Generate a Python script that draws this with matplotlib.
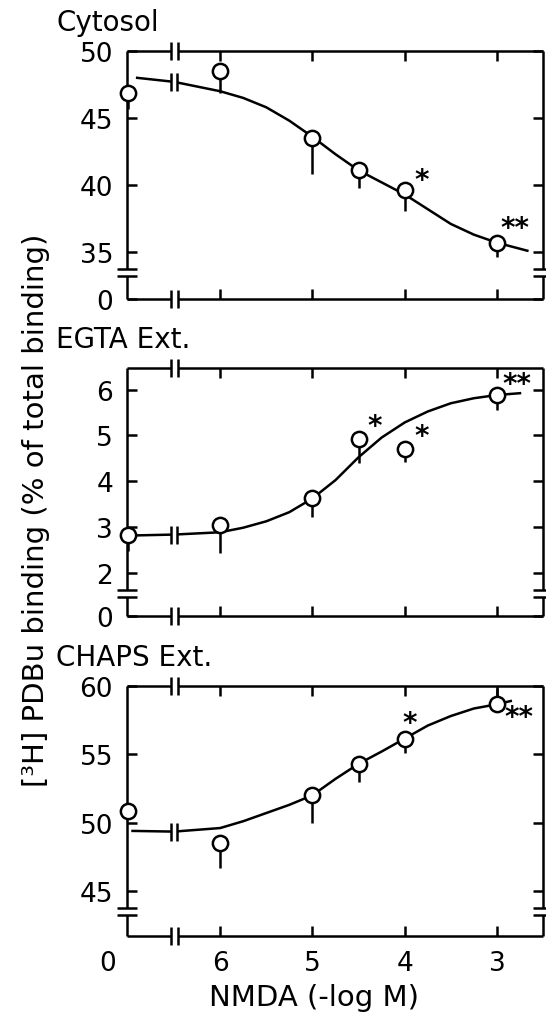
import matplotlib
matplotlib.use("Agg")
import matplotlib.pyplot as plt

plt.rcParams["font.family"] = ["DejaVu Sans"]

# x positions in -log M; 7.0 stands for the control ("0") point
dose = [7.0, 6.0, 5.0, 4.5, 4.0, 3.0]

# Cytosol
cyto_mean = [46.9, 48.5, 43.5, 41.1, 39.6, 35.7]
cyto_err_lo = [1.2, 1.6, 2.7, 1.3, 1.5, 1.1]
cyto_err_hi = [0, 0, 0, 0, 0, 0]
cyto_fit_x = [6.9, 6.5, 6.0, 5.75, 5.5, 5.25, 5.0, 4.75, 4.5, 4.25, 4.0, 3.75, 3.5, 3.25, 3.0, 2.67]
cyto_fit_y = [48.0, 47.7, 47.0, 46.5, 45.8, 44.8, 43.6, 42.3, 41.1, 40.2, 39.3, 38.2, 37.1, 36.3, 35.7, 35.1]
cyto_stars = [(3.82, 40.4, "*"), (2.8, 36.8, "**")]

# EGTA extract
egta_mean = [2.81, 3.03, 3.64, 4.91, 4.71, 5.89]
egta_err_lo = [0.35, 0.6, 0.42, 0.52, 0.3, 0.33]
egta_err_hi = [0, 0, 0, 0, 0, 0]
egta_fit_x = [6.95, 6.5, 6.0, 5.75, 5.5, 5.25, 5.0, 4.75, 4.5, 4.25, 4.0, 3.75, 3.5, 3.25, 3.0, 2.75]
egta_fit_y = [2.81, 2.83, 2.88, 2.98, 3.12, 3.32, 3.62, 4.02, 4.52, 4.95, 5.28, 5.52, 5.70, 5.81, 5.88, 5.92]
egta_stars = [(4.33, 5.2, "*"), (3.82, 4.98, "*"), (2.78, 6.12, "**")]

# CHAPS extract
chaps_mean = [50.85, 48.5, 52.0, 54.27, 56.15, 58.66]
chaps_err_lo = [0, 1.8, 2.05, 1.3, 1.05, 0]
chaps_err_hi = [0, 0, 0, 0, 0, 1.2]
chaps_fit_x = [6.95, 6.5, 6.0, 5.75, 5.5, 5.25, 5.0, 4.75, 4.5, 4.25, 4.0, 3.75, 3.5, 3.25, 3.0, 2.85]
chaps_fit_y = [49.39, 49.34, 49.6, 50.1, 50.7, 51.3, 52.0, 53.2, 54.3, 55.2, 56.15, 57.1, 57.8, 58.35, 58.66, 58.9]
chaps_stars = [(3.95, 57.3, "*"), (2.76, 57.7, "**")]

x_ticks = [6, 5, 4, 3]
x_break = 6.5

FS = 19
LW = 1.8


def broken_frame(ax, y_break):
    """Draw the box by hand with the axis-break marks."""
    for s in ax.spines.values():
        s.set_visible(False)
    x0, x1 = ax.get_xlim()
    y0, y1 = ax.get_ylim()
    xb = (x_break - x0) / (x1 - x0)
    yb = (y_break - y0) / (y1 - y0)
    gx, gy = 3.5 / 416, 3.5 / 248
    kw = dict(transform=ax.transAxes, color="k", lw=LW, clip_on=False, solid_capstyle="butt")
    for yy in (0, 1):
        ax.plot([0, xb - gx], [yy, yy], **kw)
        ax.plot([xb + gx, 1], [yy, yy], **kw)
        for xx in (xb - gx, xb + gx):
            ax.plot([xx, xx], [yy - 9 / 248, yy + 9 / 248], **kw)
    for xx in (0, 1):
        ax.plot([xx, xx], [0, yb - gy], **kw)
        ax.plot([xx, xx], [yb + gy, 1], **kw)
        for yy in (yb - gy, yb + gy):
            ax.plot([xx - 10 / 416, xx + 10 / 416], [yy, yy], **kw)


def draw_panel(ax, mean, err_lo, err_hi, fit_x, fit_y, stars, ylim, yticks, ylabels, y_break, title):
    ax.set_xlim(7.01, 2.5)
    ax.set_ylim(*ylim)

    ax.plot(fit_x, fit_y, color="k", lw=LW, zorder=2)
    # break on the fitted curve
    yb = fit_y[fit_x.index(x_break)]
    ax.plot([x_break], [yb], marker="s", ms=5, color="white", mec="none", ls="none", zorder=3)
    ax.plot([x_break - 0.035, x_break + 0.035], [yb, yb], marker="|", ms=13, mew=LW,
            color="k", ls="none", zorder=4)

    ax.errorbar(dose, mean, yerr=[err_lo, err_hi], fmt="none", ecolor="k", elinewidth=LW,
                capsize=0, zorder=3, clip_on=False)
    ax.plot(dose, mean, "o", ms=11, mfc="white", mec="k", mew=LW, ls="none", zorder=5, clip_on=False)

    for sx, sy, s in stars:
        ax.text(sx, sy, s, fontsize=20, fontweight="bold", ha="center", va="center")

    ax.set_xticks(x_ticks)
    ax.set_yticks(yticks)
    ax.set_yticklabels(ylabels)
    ax.tick_params(direction="in", length=7, width=LW, top=True, right=True,
                   labelsize=FS, pad=10)
    ax.set_xticklabels([])
    broken_frame(ax, y_break)
    ax.text(-0.17, 1.06, title, transform=ax.transAxes, fontsize=20, ha="left", va="bottom")


fig = plt.figure(figsize=(5.46, 10.2), dpi=100)
ax1 = fig.add_axes([0.2326, 0.7059, 0.762, 0.2431])
ax2 = fig.add_axes([0.2326, 0.3951, 0.762, 0.2431])
ax3 = fig.add_axes([0.2326, 0.0814, 0.762, 0.2451])

draw_panel(ax1, cyto_mean, cyto_err_lo, cyto_err_hi, cyto_fit_x, cyto_fit_y, cyto_stars,
           (31.5, 50), [31.5, 35, 40, 45, 50], ["0", "35", "40", "45", "50"], 33.5, "Cytosol")
draw_panel(ax2, egta_mean, egta_err_lo, egta_err_hi, egta_fit_x, egta_fit_y, egta_stars,
           (1.05, 6.47), [1.05, 2, 3, 4, 5, 6], ["0", "2", "3", "4", "5", "6"], 1.55, "EGTA Ext.")
draw_panel(ax3, chaps_mean, chaps_err_lo, chaps_err_hi, chaps_fit_x, chaps_fit_y, chaps_stars,
           (41.7, 60), [45, 50, 55, 60], ["45", "50", "55", "60"], 43.5, "CHAPS Ext.")

ax3.set_xticklabels(["6", "5", "4", "3"])
ax3.annotate("0", xy=(7.22, 0), xycoords=("data", "axes fraction"), xytext=(0, -10),
             textcoords="offset points", ha="center", va="top", fontsize=FS, annotation_clip=False)

fig.text(0.575, 0.022, "NMDA (-log M)", fontsize=21, ha="center", va="center")
fig.text(0.066, 0.50, "[³H] PDBu binding (% of total binding)", rotation=90,
         fontsize=21, ha="center", va="center")

fig.savefig("out.png", dpi=100)
